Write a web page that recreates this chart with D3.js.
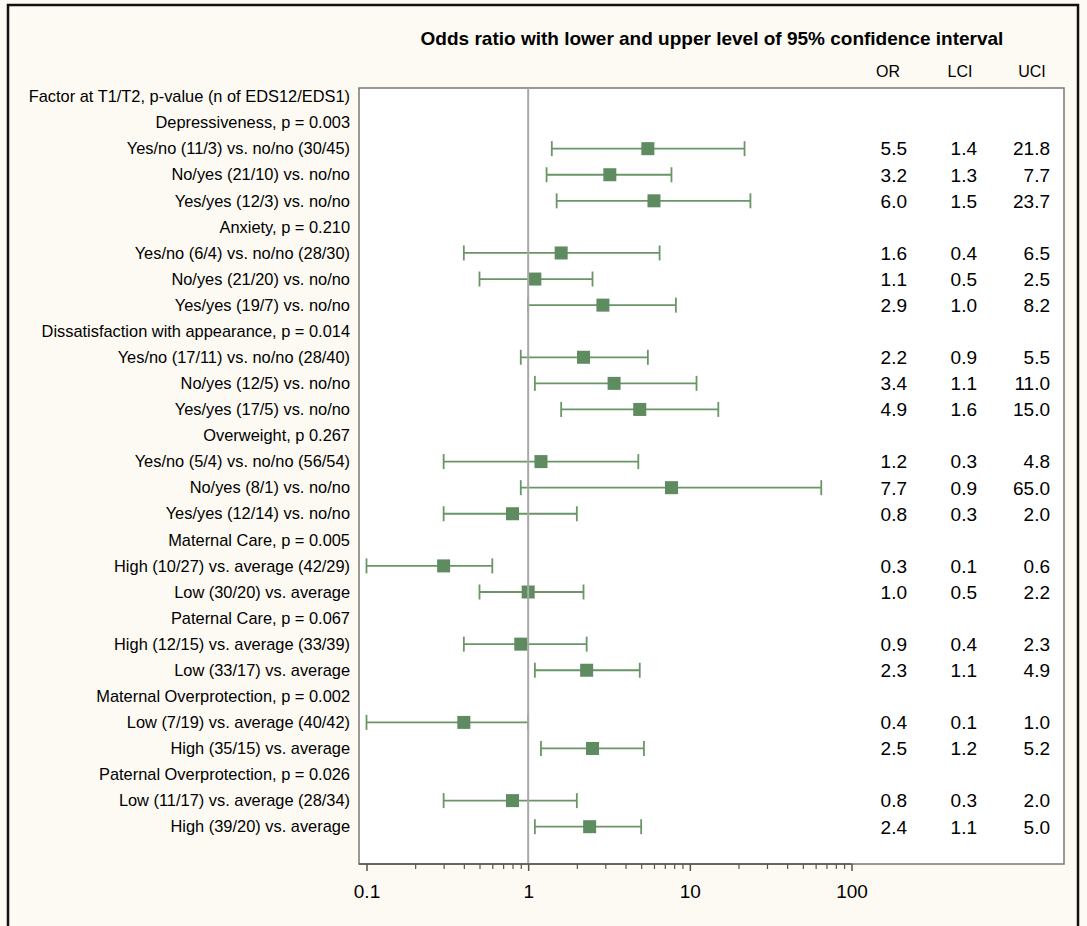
<!DOCTYPE html>
<html>
<head>
<meta charset="utf-8">
<script src="https://cdn.jsdelivr.net/npm/d3@7"></script>
<style>
  html, body { margin: 0; padding: 0; background: #fdfaf3; }
  svg { display: block; }
  text { font-family: Arial, "Liberation Sans", sans-serif; fill: #000; }
</style>
</head>
<body>
<svg id="chart" width="1087" height="926"></svg>
<script>
// ---- data ----
const labels = [
  "Factor at T1/T2, p-value (n of EDS12/EDS1)",
  "Depressiveness, p = 0.003",
  "Yes/no (11/3) vs. no/no (30/45)",
  "No/yes (21/10) vs. no/no",
  "Yes/yes (12/3) vs. no/no",
  "Anxiety, p = 0.210",
  "Yes/no (6/4) vs. no/no (28/30)",
  "No/yes (21/20) vs. no/no",
  "Yes/yes (19/7) vs. no/no",
  "Dissatisfaction with appearance, p = 0.014",
  "Yes/no (17/11) vs. no/no (28/40)",
  "No/yes (12/5) vs. no/no",
  "Yes/yes (17/5) vs. no/no",
  "Overweight, p 0.267",
  "Yes/no (5/4) vs. no/no (56/54)",
  "No/yes (8/1) vs. no/no",
  "Yes/yes (12/14) vs. no/no",
  "Maternal Care, p = 0.005",
  "High (10/27) vs. average (42/29)",
  "Low (30/20) vs. average",
  "Paternal Care, p = 0.067",
  "High (12/15) vs. average (33/39)",
  "Low (33/17) vs. average",
  "Maternal Overprotection, p = 0.002",
  "Low (7/19) vs. average (40/42)",
  "High (35/15) vs. average",
  "Paternal Overprotection, p = 0.026",
  "Low (11/17) vs. average (28/34)",
  "High (39/20) vs. average"
];
// null for header rows
const orValues  = [null,null,5.5,3.2,6.0,null,1.6,1.1,2.9,null,2.2,3.4,4.9,null,1.2,7.7,0.8,null,0.3,1.0,null,0.9,2.3,null,0.4,2.5,null,0.8,2.4];
const lciValues = [null,null,1.4,1.3,1.5,null,0.4,0.5,1.0,null,0.9,1.1,1.6,null,0.3,0.9,0.3,null,0.1,0.5,null,0.4,1.1,null,0.1,1.2,null,0.3,1.1];
const uciValues = [null,null,21.8,7.7,23.7,null,6.5,2.5,8.2,null,5.5,11.0,15.0,null,4.8,65.0,2.0,null,0.6,2.2,null,2.3,4.9,null,1.0,5.2,null,2.0,5.0];
const xTicks = [0.1, 1, 10, 100];
const xTickLabels = ["0.1", "1", "10", "100"];
const columnHeaders = ["OR", "LCI", "UCI"];
const title = "Odds ratio with lower and upper level of 95% confidence interval";

// ---- layout ----
const svg = d3.select("#chart");
const plot = { left: 359, right: 1064, top: 88, bottom: 864 };

// outer frame
svg.append("rect")
  .attr("x", 8).attr("y", 5).attr("width", 1070).attr("height", 940)
  .attr("fill", "#fdfaf3").attr("stroke", "#111").attr("stroke-width", 2.5);

// plot box
svg.append("rect")
  .attr("x", plot.left).attr("y", plot.top)
  .attr("width", plot.right - plot.left).attr("height", plot.bottom - plot.top)
  .attr("fill", "#ffffff").attr("stroke", "#7a7a72").attr("stroke-width", 1.5);

const x = d3.scaleLog().domain([0.1, 100]).range([366.5, 851.5]);
const y = d3.scalePoint().domain(d3.range(labels.length)).range([96.5, 826.7]);

// title
svg.append("text")
  .attr("x", 712).attr("y", 45)
  .attr("text-anchor", "middle")
  .attr("font-size", 19).attr("font-weight", "bold")
  .text(title);

// column headers
const colRight = [907, 977, 1050];
const colHeaderX = [888, 960, 1032];
columnHeaders.forEach((h, i) => {
  svg.append("text")
    .attr("x", colHeaderX[i]).attr("y", 77)
    .attr("text-anchor", "middle")
    .attr("font-size", 16)
    .text(h);
});

// row labels
svg.append("g").selectAll("text")
  .data(labels)
  .join("text")
  .attr("x", 350)
  .attr("y", (d, i) => y(i))
  .attr("dy", "0.35em")
  .attr("text-anchor", "end")
  .attr("font-size", 16.4)
  .text(d => d);

// value columns
const rows = labels.map((l, i) => ({ i, or: orValues[i], lci: lciValues[i], uci: uciValues[i] }))
  .filter(d => d.or !== null);

[["or", 0], ["lci", 1], ["uci", 2]].forEach(([key, ci]) => {
  svg.append("g").selectAll("text")
    .data(rows)
    .join("text")
    .attr("x", colRight[ci])
    .attr("y", d => y(d.i))
    .attr("dy", "0.36em")
    .attr("text-anchor", "end")
    .attr("font-size", 19)
    .text(d => d[key].toFixed(1));
});

// error bars
const lineColor = "#6a9566";
const markColor = "#5e8b5f";
const g = svg.append("g");
g.selectAll("line.ci")
  .data(rows).join("line")
  .attr("class", "ci")
  .attr("x1", d => x(d.lci)).attr("x2", d => x(d.uci))
  .attr("y1", d => y(d.i)).attr("y2", d => y(d.i))
  .attr("stroke", lineColor).attr("stroke-width", 1.8);
g.selectAll("line.capl")
  .data(rows).join("line")
  .attr("class", "capl")
  .attr("x1", d => x(d.lci)).attr("x2", d => x(d.lci))
  .attr("y1", d => y(d.i) - 7.5).attr("y2", d => y(d.i) + 7.5)
  .attr("stroke", lineColor).attr("stroke-width", 1.8);
g.selectAll("line.capu")
  .data(rows).join("line")
  .attr("class", "capu")
  .attr("x1", d => x(d.uci)).attr("x2", d => x(d.uci))
  .attr("y1", d => y(d.i) - 7.5).attr("y2", d => y(d.i) + 7.5)
  .attr("stroke", lineColor).attr("stroke-width", 1.8);
g.selectAll("rect.mk")
  .data(rows).join("rect")
  .attr("class", "mk")
  .attr("x", d => x(d.or) - 6.5).attr("y", d => y(d.i) - 6.5)
  .attr("width", 13).attr("height", 13)
  .attr("fill", markColor);

// reference line at 1
svg.append("line")
  .attr("x1", x(1)).attr("x2", x(1))
  .attr("y1", plot.top).attr("y2", plot.bottom)
  .attr("stroke", "#a8a8a8").attr("stroke-width", 2);

// x axis
const minorTicks = [];
[0.1, 1, 10].forEach(b => { for (let k = 2; k <= 9; k++) minorTicks.push(b * k); });
const axisG = svg.append("g").attr("transform", `translate(0,${plot.bottom})`);
axisG.call(d3.axisBottom(x).tickValues(minorTicks).tickSize(5).tickFormat(""))
  .call(a => a.select(".domain").remove())
  .call(a => a.selectAll("line").attr("stroke", "#555").attr("stroke-width", 1.2));
const axisMajor = svg.append("g").attr("transform", `translate(0,${plot.bottom})`);
axisMajor.call(d3.axisBottom(x).tickValues(xTicks).tickSize(7).tickPadding(14)
    .tickFormat((d, i) => xTickLabels[i]))
  .call(a => a.select(".domain").attr("d", `M${plot.left},0H${x(100)}`).attr("stroke", "#555").attr("stroke-width", 1.5))
  .call(a => a.selectAll("line").attr("stroke", "#555").attr("stroke-width", 1.5))
  .call(a => a.selectAll("text").attr("font-size", 19).attr("font-family", "Arial, 'Liberation Sans', sans-serif").attr("fill", "#000"));
</script>
</body>
</html>
